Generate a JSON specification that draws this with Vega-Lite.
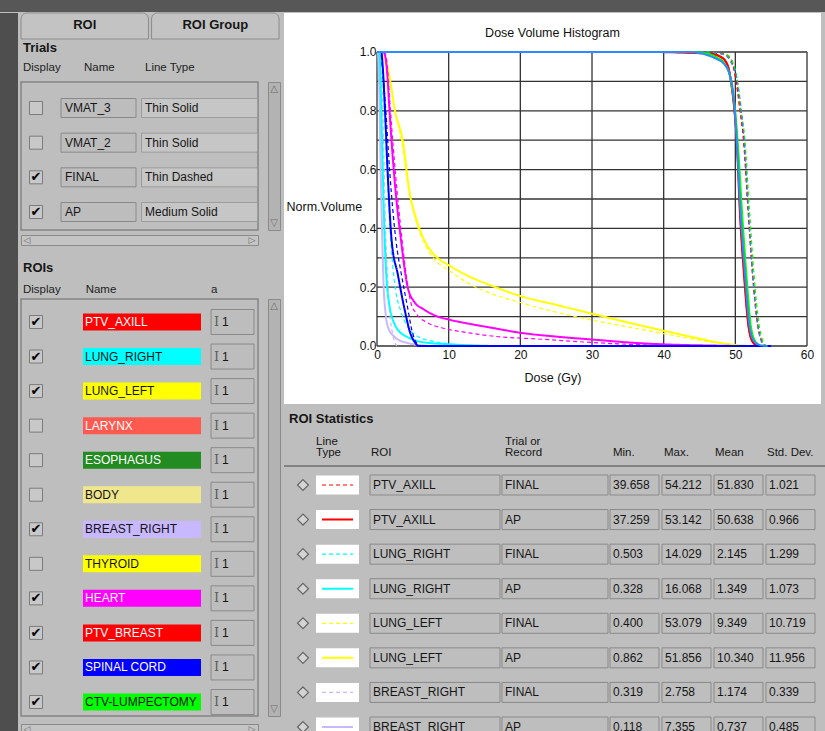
{
"$schema": "https://vega.github.io/schema/vega-lite/v6.json",
"background": "#bebebe",
"padding": 0,
"autosize": {"type": "pad"},
"spacing": 0,
"config": {
  "view": {"stroke": null},
  "font": "Liberation Sans",
  "text": {"font": "Liberation Sans", "fontSize": 12, "color": "#161616"},
  "concat": {"spacing": 0}
},
"datasets": {
  "tabs": [{"tab": "ROI"}, {"tab": "ROI Group"}],
  "hdrT": [{"k": "Display"}, {"k": "Name"}, {"k": "Line Type"}],
  "hdrR": [{"k": "Display"}, {"k": "Name"}, {"k": "a"}],
  "vs": [{"p": "top", "g": "△"}, {"p": "bot", "g": "▽"}],
  "hs": [{"p": "l", "g": "◁"}, {"p": "r", "g": "▷"}],
  "trials": [
    {"name": "VMAT_3", "line": "Thin Solid", "on": false},
    {"name": "VMAT_2", "line": "Thin Solid", "on": false},
    {"name": "FINAL", "line": "Thin Dashed", "on": true},
    {"name": "AP", "line": "Medium Solid", "on": true}
  ],
  "rois": [
    {"roi": "PTV_AXILL", "on": true, "a": 1},
    {"roi": "LUNG_RIGHT", "on": true, "a": 1},
    {"roi": "LUNG_LEFT", "on": true, "a": 1},
    {"roi": "LARYNX", "on": false, "a": 1},
    {"roi": "ESOPHAGUS", "on": false, "a": 1},
    {"roi": "BODY", "on": false, "a": 1},
    {"roi": "BREAST_RIGHT", "on": true, "a": 1},
    {"roi": "THYROID", "on": false, "a": 1},
    {"roi": "HEART", "on": true, "a": 1},
    {"roi": "PTV_BREAST", "on": true, "a": 1},
    {"roi": "SPINAL CORD", "on": true, "a": 1},
    {"roi": "CTV-LUMPECTOMY", "on": true, "a": 1}
  ],
  "hdrS": [
    {"col": "lt", "h1": "Line", "h2": "Type"},
    {"col": "roi", "h1": "", "h2": "ROI"},
    {"col": "trial", "h1": "Trial or", "h2": "Record"},
    {"col": "min", "h1": "", "h2": "Min."},
    {"col": "max", "h1": "", "h2": "Max."},
    {"col": "mean", "h1": "", "h2": "Mean"},
    {"col": "sd", "h1": "", "h2": "Std. Dev."}
  ],
  "stats": [
    {"row": 1, "roi": "PTV_AXILL", "trial": "FINAL", "min": 39.658, "max": 54.212, "mean": 51.830, "sd": 1.021},
    {"row": 2, "roi": "PTV_AXILL", "trial": "AP", "min": 37.259, "max": 53.142, "mean": 50.638, "sd": 0.966},
    {"row": 3, "roi": "LUNG_RIGHT", "trial": "FINAL", "min": 0.503, "max": 14.029, "mean": 2.145, "sd": 1.299},
    {"row": 4, "roi": "LUNG_RIGHT", "trial": "AP", "min": 0.328, "max": 16.068, "mean": 1.349, "sd": 1.073},
    {"row": 5, "roi": "LUNG_LEFT", "trial": "FINAL", "min": 0.400, "max": 53.079, "mean": 9.349, "sd": 10.719},
    {"row": 6, "roi": "LUNG_LEFT", "trial": "AP", "min": 0.862, "max": 51.856, "mean": 10.340, "sd": 11.956},
    {"row": 7, "roi": "BREAST_RIGHT", "trial": "FINAL", "min": 0.319, "max": 2.758, "mean": 1.174, "sd": 0.339},
    {"row": 8, "roi": "BREAST_RIGHT", "trial": "AP", "min": 0.118, "max": 7.355, "mean": 0.737, "sd": 0.485}
  ],
  "gx": [{"d": 0}, {"d": 10}, {"d": 20}, {"d": 30}, {"d": 40}, {"d": 50}, {"d": 60}],
  "gy": [{"v": 0}, {"v": 0.1}, {"v": 0.2}, {"v": 0.3}, {"v": 0.4}, {"v": 0.5}, {"v": 0.6}, {"v": 0.7}, {"v": 0.8}, {"v": 0.9}, {"v": 1}],
  "dvh": [
    {"roi":"BREAST_RIGHT","trial":"FINAL","dose":0,"vol":1},
    {"roi":"BREAST_RIGHT","trial":"FINAL","dose":0.319,"vol":1},
    {"roi":"BREAST_RIGHT","trial":"FINAL","dose":0.55,"vol":0.95},
    {"roi":"BREAST_RIGHT","trial":"FINAL","dose":0.8,"vol":0.8},
    {"roi":"BREAST_RIGHT","trial":"FINAL","dose":1.0,"vol":0.6},
    {"roi":"BREAST_RIGHT","trial":"FINAL","dose":1.2,"vol":0.4},
    {"roi":"BREAST_RIGHT","trial":"FINAL","dose":1.45,"vol":0.25},
    {"roi":"BREAST_RIGHT","trial":"FINAL","dose":1.75,"vol":0.12},
    {"roi":"BREAST_RIGHT","trial":"FINAL","dose":2.2,"vol":0.04},
    {"roi":"BREAST_RIGHT","trial":"FINAL","dose":2.758,"vol":0},
    {"roi":"BREAST_RIGHT","trial":"AP","dose":0,"vol":1},
    {"roi":"BREAST_RIGHT","trial":"AP","dose":0.118,"vol":1},
    {"roi":"BREAST_RIGHT","trial":"AP","dose":0.3,"vol":0.9},
    {"roi":"BREAST_RIGHT","trial":"AP","dose":0.5,"vol":0.62},
    {"roi":"BREAST_RIGHT","trial":"AP","dose":0.7,"vol":0.4},
    {"roi":"BREAST_RIGHT","trial":"AP","dose":0.9,"vol":0.22},
    {"roi":"BREAST_RIGHT","trial":"AP","dose":1.2,"vol":0.11},
    {"roi":"BREAST_RIGHT","trial":"AP","dose":1.6,"vol":0.06},
    {"roi":"BREAST_RIGHT","trial":"AP","dose":2.5,"vol":0.03},
    {"roi":"BREAST_RIGHT","trial":"AP","dose":4,"vol":0.012},
    {"roi":"BREAST_RIGHT","trial":"AP","dose":7.355,"vol":0},
    {"roi":"LUNG_RIGHT","trial":"FINAL","dose":0,"vol":1},
    {"roi":"LUNG_RIGHT","trial":"FINAL","dose":0.503,"vol":1},
    {"roi":"LUNG_RIGHT","trial":"FINAL","dose":0.8,"vol":0.93},
    {"roi":"LUNG_RIGHT","trial":"FINAL","dose":1.1,"vol":0.78},
    {"roi":"LUNG_RIGHT","trial":"FINAL","dose":1.4,"vol":0.6},
    {"roi":"LUNG_RIGHT","trial":"FINAL","dose":1.7,"vol":0.45},
    {"roi":"LUNG_RIGHT","trial":"FINAL","dose":2.1,"vol":0.3},
    {"roi":"LUNG_RIGHT","trial":"FINAL","dose":2.6,"vol":0.19},
    {"roi":"LUNG_RIGHT","trial":"FINAL","dose":3.3,"vol":0.12},
    {"roi":"LUNG_RIGHT","trial":"FINAL","dose":4.3,"vol":0.065},
    {"roi":"LUNG_RIGHT","trial":"FINAL","dose":5.5,"vol":0.035},
    {"roi":"LUNG_RIGHT","trial":"FINAL","dose":8,"vol":0.015},
    {"roi":"LUNG_RIGHT","trial":"FINAL","dose":14.029,"vol":0},
    {"roi":"LUNG_RIGHT","trial":"AP","dose":0,"vol":1},
    {"roi":"LUNG_RIGHT","trial":"AP","dose":0.328,"vol":1},
    {"roi":"LUNG_RIGHT","trial":"AP","dose":0.5,"vol":0.9},
    {"roi":"LUNG_RIGHT","trial":"AP","dose":0.7,"vol":0.7},
    {"roi":"LUNG_RIGHT","trial":"AP","dose":0.85,"vol":0.55},
    {"roi":"LUNG_RIGHT","trial":"AP","dose":1.02,"vol":0.4},
    {"roi":"LUNG_RIGHT","trial":"AP","dose":1.3,"vol":0.24},
    {"roi":"LUNG_RIGHT","trial":"AP","dose":1.72,"vol":0.14},
    {"roi":"LUNG_RIGHT","trial":"AP","dose":2.2,"vol":0.09},
    {"roi":"LUNG_RIGHT","trial":"AP","dose":2.65,"vol":0.065},
    {"roi":"LUNG_RIGHT","trial":"AP","dose":3.3,"vol":0.045},
    {"roi":"LUNG_RIGHT","trial":"AP","dose":4.3,"vol":0.03},
    {"roi":"LUNG_RIGHT","trial":"AP","dose":6.1,"vol":0.014},
    {"roi":"LUNG_RIGHT","trial":"AP","dose":10,"vol":0.006},
    {"roi":"LUNG_RIGHT","trial":"AP","dose":16.068,"vol":0},
    {"roi":"LUNG_LEFT","trial":"FINAL","dose":0,"vol":1},
    {"roi":"LUNG_LEFT","trial":"FINAL","dose":0.4,"vol":1},
    {"roi":"LUNG_LEFT","trial":"FINAL","dose":1.0,"vol":0.97},
    {"roi":"LUNG_LEFT","trial":"FINAL","dose":1.6,"vol":0.92},
    {"roi":"LUNG_LEFT","trial":"FINAL","dose":2.5,"vol":0.8},
    {"roi":"LUNG_LEFT","trial":"FINAL","dose":3.5,"vol":0.69},
    {"roi":"LUNG_LEFT","trial":"FINAL","dose":4.5,"vol":0.52},
    {"roi":"LUNG_LEFT","trial":"FINAL","dose":5.5,"vol":0.42},
    {"roi":"LUNG_LEFT","trial":"FINAL","dose":6.6,"vol":0.35},
    {"roi":"LUNG_LEFT","trial":"FINAL","dose":8,"vol":0.295},
    {"roi":"LUNG_LEFT","trial":"FINAL","dose":10,"vol":0.258},
    {"roi":"LUNG_LEFT","trial":"FINAL","dose":13,"vol":0.21},
    {"roi":"LUNG_LEFT","trial":"FINAL","dose":16,"vol":0.178},
    {"roi":"LUNG_LEFT","trial":"FINAL","dose":20,"vol":0.148},
    {"roi":"LUNG_LEFT","trial":"FINAL","dose":25,"vol":0.115},
    {"roi":"LUNG_LEFT","trial":"FINAL","dose":30,"vol":0.088},
    {"roi":"LUNG_LEFT","trial":"FINAL","dose":35,"vol":0.065},
    {"roi":"LUNG_LEFT","trial":"FINAL","dose":40,"vol":0.042},
    {"roi":"LUNG_LEFT","trial":"FINAL","dose":45,"vol":0.02},
    {"roi":"LUNG_LEFT","trial":"FINAL","dose":48,"vol":0.008},
    {"roi":"LUNG_LEFT","trial":"FINAL","dose":50,"vol":0.003},
    {"roi":"LUNG_LEFT","trial":"FINAL","dose":53.079,"vol":0},
    {"roi":"LUNG_LEFT","trial":"AP","dose":0,"vol":1},
    {"roi":"LUNG_LEFT","trial":"AP","dose":0.862,"vol":1},
    {"roi":"LUNG_LEFT","trial":"AP","dose":1.3,"vol":0.97},
    {"roi":"LUNG_LEFT","trial":"AP","dose":1.72,"vol":0.92},
    {"roi":"LUNG_LEFT","trial":"AP","dose":2.5,"vol":0.8},
    {"roi":"LUNG_LEFT","trial":"AP","dose":3.58,"vol":0.7},
    {"roi":"LUNG_LEFT","trial":"AP","dose":4.5,"vol":0.53},
    {"roi":"LUNG_LEFT","trial":"AP","dose":5.5,"vol":0.43},
    {"roi":"LUNG_LEFT","trial":"AP","dose":6.6,"vol":0.36},
    {"roi":"LUNG_LEFT","trial":"AP","dose":8,"vol":0.31},
    {"roi":"LUNG_LEFT","trial":"AP","dose":10,"vol":0.275},
    {"roi":"LUNG_LEFT","trial":"AP","dose":13,"vol":0.235},
    {"roi":"LUNG_LEFT","trial":"AP","dose":16,"vol":0.205},
    {"roi":"LUNG_LEFT","trial":"AP","dose":20,"vol":0.17},
    {"roi":"LUNG_LEFT","trial":"AP","dose":25,"vol":0.14},
    {"roi":"LUNG_LEFT","trial":"AP","dose":30,"vol":0.11},
    {"roi":"LUNG_LEFT","trial":"AP","dose":35,"vol":0.08},
    {"roi":"LUNG_LEFT","trial":"AP","dose":40,"vol":0.052},
    {"roi":"LUNG_LEFT","trial":"AP","dose":45,"vol":0.025},
    {"roi":"LUNG_LEFT","trial":"AP","dose":48,"vol":0.01},
    {"roi":"LUNG_LEFT","trial":"AP","dose":50,"vol":0.004},
    {"roi":"LUNG_LEFT","trial":"AP","dose":51.856,"vol":0},
    {"roi":"HEART","trial":"FINAL","dose":0,"vol":1},
    {"roi":"HEART","trial":"FINAL","dose":1.0,"vol":1},
    {"roi":"HEART","trial":"FINAL","dose":1.35,"vol":0.97},
    {"roi":"HEART","trial":"FINAL","dose":1.6,"vol":0.9},
    {"roi":"HEART","trial":"FINAL","dose":1.85,"vol":0.81},
    {"roi":"HEART","trial":"FINAL","dose":2.6,"vol":0.58},
    {"roi":"HEART","trial":"FINAL","dose":3.5,"vol":0.36},
    {"roi":"HEART","trial":"FINAL","dose":4.2,"vol":0.22},
    {"roi":"HEART","trial":"FINAL","dose":4.7,"vol":0.15},
    {"roi":"HEART","trial":"FINAL","dose":5.5,"vol":0.11},
    {"roi":"HEART","trial":"FINAL","dose":7,"vol":0.08},
    {"roi":"HEART","trial":"FINAL","dose":9,"vol":0.062},
    {"roi":"HEART","trial":"FINAL","dose":12,"vol":0.048},
    {"roi":"HEART","trial":"FINAL","dose":16,"vol":0.034},
    {"roi":"HEART","trial":"FINAL","dose":23,"vol":0.023},
    {"roi":"HEART","trial":"FINAL","dose":30,"vol":0.012},
    {"roi":"HEART","trial":"FINAL","dose":36,"vol":0.005},
    {"roi":"HEART","trial":"FINAL","dose":42,"vol":0.001},
    {"roi":"HEART","trial":"FINAL","dose":45,"vol":0},
    {"roi":"HEART","trial":"AP","dose":0,"vol":1},
    {"roi":"HEART","trial":"AP","dose":0.9,"vol":1},
    {"roi":"HEART","trial":"AP","dose":1.25,"vol":0.97},
    {"roi":"HEART","trial":"AP","dose":1.5,"vol":0.9},
    {"roi":"HEART","trial":"AP","dose":1.72,"vol":0.81},
    {"roi":"HEART","trial":"AP","dose":2.4,"vol":0.58},
    {"roi":"HEART","trial":"AP","dose":3.35,"vol":0.36},
    {"roi":"HEART","trial":"AP","dose":4.28,"vol":0.2},
    {"roi":"HEART","trial":"AP","dose":5.2,"vol":0.15},
    {"roi":"HEART","trial":"AP","dose":6.5,"vol":0.125},
    {"roi":"HEART","trial":"AP","dose":8.5,"vol":0.1},
    {"roi":"HEART","trial":"AP","dose":10,"vol":0.09},
    {"roi":"HEART","trial":"AP","dose":13,"vol":0.075},
    {"roi":"HEART","trial":"AP","dose":16,"vol":0.062},
    {"roi":"HEART","trial":"AP","dose":20,"vol":0.045},
    {"roi":"HEART","trial":"AP","dose":25,"vol":0.032},
    {"roi":"HEART","trial":"AP","dose":30,"vol":0.022},
    {"roi":"HEART","trial":"AP","dose":37,"vol":0.009},
    {"roi":"HEART","trial":"AP","dose":42,"vol":0.004},
    {"roi":"HEART","trial":"AP","dose":48,"vol":0.001},
    {"roi":"HEART","trial":"AP","dose":50,"vol":0},
    {"roi":"PTV_AXILL","trial":"FINAL","dose":0,"vol":1},
    {"roi":"PTV_AXILL","trial":"FINAL","dose":39.658,"vol":1},
    {"roi":"PTV_AXILL","trial":"FINAL","dose":48,"vol":0.995},
    {"roi":"PTV_AXILL","trial":"FINAL","dose":49.2,"vol":0.98},
    {"roi":"PTV_AXILL","trial":"FINAL","dose":49.9,"vol":0.93},
    {"roi":"PTV_AXILL","trial":"FINAL","dose":50.6,"vol":0.81},
    {"roi":"PTV_AXILL","trial":"FINAL","dose":51.15,"vol":0.697},
    {"roi":"PTV_AXILL","trial":"FINAL","dose":51.75,"vol":0.47},
    {"roi":"PTV_AXILL","trial":"FINAL","dose":52.4,"vol":0.244},
    {"roi":"PTV_AXILL","trial":"FINAL","dose":53.1,"vol":0.074},
    {"roi":"PTV_AXILL","trial":"FINAL","dose":53.7,"vol":0.015},
    {"roi":"PTV_AXILL","trial":"FINAL","dose":54.212,"vol":0},
    {"roi":"PTV_AXILL","trial":"AP","dose":0,"vol":1},
    {"roi":"PTV_AXILL","trial":"AP","dose":37.259,"vol":1},
    {"roi":"PTV_AXILL","trial":"AP","dose":46,"vol":0.995},
    {"roi":"PTV_AXILL","trial":"AP","dose":47.8,"vol":0.985},
    {"roi":"PTV_AXILL","trial":"AP","dose":48.8,"vol":0.96},
    {"roi":"PTV_AXILL","trial":"AP","dose":49.4,"vol":0.9},
    {"roi":"PTV_AXILL","trial":"AP","dose":49.9,"vol":0.8},
    {"roi":"PTV_AXILL","trial":"AP","dose":50.2,"vol":0.7},
    {"roi":"PTV_AXILL","trial":"AP","dose":50.6,"vol":0.47},
    {"roi":"PTV_AXILL","trial":"AP","dose":51.2,"vol":0.244},
    {"roi":"PTV_AXILL","trial":"AP","dose":51.8,"vol":0.074},
    {"roi":"PTV_AXILL","trial":"AP","dose":52.4,"vol":0.015},
    {"roi":"PTV_AXILL","trial":"AP","dose":53.142,"vol":0},
    {"roi":"PTV_BREAST","trial":"FINAL","dose":0,"vol":1},
    {"roi":"PTV_BREAST","trial":"FINAL","dose":42,"vol":1},
    {"roi":"PTV_BREAST","trial":"FINAL","dose":48.3,"vol":0.995},
    {"roi":"PTV_BREAST","trial":"FINAL","dose":49.4,"vol":0.975},
    {"roi":"PTV_BREAST","trial":"FINAL","dose":50.0,"vol":0.92},
    {"roi":"PTV_BREAST","trial":"FINAL","dose":50.7,"vol":0.8},
    {"roi":"PTV_BREAST","trial":"FINAL","dose":51.2,"vol":0.69},
    {"roi":"PTV_BREAST","trial":"FINAL","dose":51.8,"vol":0.46},
    {"roi":"PTV_BREAST","trial":"FINAL","dose":52.45,"vol":0.235},
    {"roi":"PTV_BREAST","trial":"FINAL","dose":53.15,"vol":0.07},
    {"roi":"PTV_BREAST","trial":"FINAL","dose":53.75,"vol":0.014},
    {"roi":"PTV_BREAST","trial":"FINAL","dose":54.3,"vol":0},
    {"roi":"PTV_BREAST","trial":"AP","dose":0,"vol":1},
    {"roi":"PTV_BREAST","trial":"AP","dose":40,"vol":1},
    {"roi":"PTV_BREAST","trial":"AP","dose":46.5,"vol":0.995},
    {"roi":"PTV_BREAST","trial":"AP","dose":48.2,"vol":0.98},
    {"roi":"PTV_BREAST","trial":"AP","dose":49.0,"vol":0.95},
    {"roi":"PTV_BREAST","trial":"AP","dose":49.5,"vol":0.88},
    {"roi":"PTV_BREAST","trial":"AP","dose":49.95,"vol":0.78},
    {"roi":"PTV_BREAST","trial":"AP","dose":50.3,"vol":0.66},
    {"roi":"PTV_BREAST","trial":"AP","dose":50.7,"vol":0.45},
    {"roi":"PTV_BREAST","trial":"AP","dose":51.3,"vol":0.23},
    {"roi":"PTV_BREAST","trial":"AP","dose":51.9,"vol":0.06},
    {"roi":"PTV_BREAST","trial":"AP","dose":52.5,"vol":0.012},
    {"roi":"PTV_BREAST","trial":"AP","dose":53.2,"vol":0},
    {"roi":"CTV-LUMPECTOMY","trial":"FINAL","dose":0,"vol":1},
    {"roi":"CTV-LUMPECTOMY","trial":"FINAL","dose":46,"vol":1},
    {"roi":"CTV-LUMPECTOMY","trial":"FINAL","dose":48.8,"vol":0.99},
    {"roi":"CTV-LUMPECTOMY","trial":"FINAL","dose":50.0,"vol":0.94},
    {"roi":"CTV-LUMPECTOMY","trial":"FINAL","dose":50.75,"vol":0.81},
    {"roi":"CTV-LUMPECTOMY","trial":"FINAL","dose":51.35,"vol":0.697},
    {"roi":"CTV-LUMPECTOMY","trial":"FINAL","dose":51.95,"vol":0.47},
    {"roi":"CTV-LUMPECTOMY","trial":"FINAL","dose":52.6,"vol":0.244},
    {"roi":"CTV-LUMPECTOMY","trial":"FINAL","dose":53.3,"vol":0.074},
    {"roi":"CTV-LUMPECTOMY","trial":"FINAL","dose":53.85,"vol":0.017},
    {"roi":"CTV-LUMPECTOMY","trial":"FINAL","dose":54.4,"vol":0},
    {"roi":"CTV-LUMPECTOMY","trial":"AP","dose":0,"vol":1},
    {"roi":"CTV-LUMPECTOMY","trial":"AP","dose":44,"vol":1},
    {"roi":"CTV-LUMPECTOMY","trial":"AP","dose":46,"vol":0.995},
    {"roi":"CTV-LUMPECTOMY","trial":"AP","dose":47.5,"vol":0.98},
    {"roi":"CTV-LUMPECTOMY","trial":"AP","dose":48.5,"vol":0.96},
    {"roi":"CTV-LUMPECTOMY","trial":"AP","dose":49.4,"vol":0.9},
    {"roi":"CTV-LUMPECTOMY","trial":"AP","dose":50.05,"vol":0.78},
    {"roi":"CTV-LUMPECTOMY","trial":"AP","dose":50.45,"vol":0.65},
    {"roi":"CTV-LUMPECTOMY","trial":"AP","dose":50.95,"vol":0.45},
    {"roi":"CTV-LUMPECTOMY","trial":"AP","dose":51.55,"vol":0.24},
    {"roi":"CTV-LUMPECTOMY","trial":"AP","dose":52.15,"vol":0.07},
    {"roi":"CTV-LUMPECTOMY","trial":"AP","dose":52.8,"vol":0.015},
    {"roi":"CTV-LUMPECTOMY","trial":"AP","dose":53.5,"vol":0},
    {"roi":"SPINAL CORD","trial":"FINAL","dose":0,"vol":1},
    {"roi":"SPINAL CORD","trial":"FINAL","dose":0.5,"vol":1},
    {"roi":"SPINAL CORD","trial":"FINAL","dose":0.75,"vol":0.95},
    {"roi":"SPINAL CORD","trial":"FINAL","dose":1.2,"vol":0.81},
    {"roi":"SPINAL CORD","trial":"FINAL","dose":1.8,"vol":0.585},
    {"roi":"SPINAL CORD","trial":"FINAL","dose":2.65,"vol":0.357},
    {"roi":"SPINAL CORD","trial":"FINAL","dose":3.4,"vol":0.244},
    {"roi":"SPINAL CORD","trial":"FINAL","dose":4.28,"vol":0.13},
    {"roi":"SPINAL CORD","trial":"FINAL","dose":4.9,"vol":0.05},
    {"roi":"SPINAL CORD","trial":"FINAL","dose":5.4,"vol":0.015},
    {"roi":"SPINAL CORD","trial":"FINAL","dose":6.0,"vol":0},
    {"roi":"SPINAL CORD","trial":"AP","dose":0,"vol":1},
    {"roi":"SPINAL CORD","trial":"AP","dose":0.6,"vol":1},
    {"roi":"SPINAL CORD","trial":"AP","dose":0.8,"vol":0.95},
    {"roi":"SPINAL CORD","trial":"AP","dose":1.1,"vol":0.81},
    {"roi":"SPINAL CORD","trial":"AP","dose":1.5,"vol":0.585},
    {"roi":"SPINAL CORD","trial":"AP","dose":2.05,"vol":0.357},
    {"roi":"SPINAL CORD","trial":"AP","dose":2.9,"vol":0.244},
    {"roi":"SPINAL CORD","trial":"AP","dose":3.8,"vol":0.13},
    {"roi":"SPINAL CORD","trial":"AP","dose":4.7,"vol":0.04},
    {"roi":"SPINAL CORD","trial":"AP","dose":5.3,"vol":0.012},
    {"roi":"SPINAL CORD","trial":"AP","dose":5.8,"vol":0},
    {"roi":"SPINAL CORD","trial":"AP","dose":55,"vol":0},
    {"roi":"PTV_EVAL","trial":"FINAL","dose":0,"vol":1},
    {"roi":"PTV_EVAL","trial":"FINAL","dose":46,"vol":1},
    {"roi":"PTV_EVAL","trial":"FINAL","dose":48.5,"vol":0.99},
    {"roi":"PTV_EVAL","trial":"FINAL","dose":49.5,"vol":0.96},
    {"roi":"PTV_EVAL","trial":"FINAL","dose":50.1,"vol":0.924},
    {"roi":"PTV_EVAL","trial":"FINAL","dose":50.8,"vol":0.81},
    {"roi":"PTV_EVAL","trial":"FINAL","dose":51.25,"vol":0.697},
    {"roi":"PTV_EVAL","trial":"FINAL","dose":51.8,"vol":0.47},
    {"roi":"PTV_EVAL","trial":"FINAL","dose":52.4,"vol":0.244},
    {"roi":"PTV_EVAL","trial":"FINAL","dose":53.1,"vol":0.074},
    {"roi":"PTV_EVAL","trial":"FINAL","dose":53.6,"vol":0.017},
    {"roi":"PTV_EVAL","trial":"FINAL","dose":54.0,"vol":0},
    {"roi":"PTV_EVAL","trial":"AP","dose":0,"vol":1},
    {"roi":"PTV_EVAL","trial":"AP","dose":43.5,"vol":1},
    {"roi":"PTV_EVAL","trial":"AP","dose":46,"vol":0.99},
    {"roi":"PTV_EVAL","trial":"AP","dose":47.5,"vol":0.975},
    {"roi":"PTV_EVAL","trial":"AP","dose":48.2,"vol":0.965},
    {"roi":"PTV_EVAL","trial":"AP","dose":49.2,"vol":0.924},
    {"roi":"PTV_EVAL","trial":"AP","dose":49.9,"vol":0.81},
    {"roi":"PTV_EVAL","trial":"AP","dose":50.2,"vol":0.697},
    {"roi":"PTV_EVAL","trial":"AP","dose":50.7,"vol":0.47},
    {"roi":"PTV_EVAL","trial":"AP","dose":51.35,"vol":0.244},
    {"roi":"PTV_EVAL","trial":"AP","dose":51.95,"vol":0.074},
    {"roi":"PTV_EVAL","trial":"AP","dose":52.6,"vol":0.017},
    {"roi":"PTV_EVAL","trial":"AP","dose":53.5,"vol":0.003},
    {"roi":"PTV_EVAL","trial":"AP","dose":54.5,"vol":0}
  ]
},
"vconcat": [
  {"width": 825, "height": 12, "view": {"fill": "#575757"}, "data": {"values": []}, "mark": "rect", "encoding": {}},
  {"spacing": 0, "hconcat": [
    {"width": 18, "height": 719, "view": {"fill": "#4e4e4e"}, "data": {"values": []}, "mark": "rect", "encoding": {}},
    {"width": 2, "height": 719, "data": {"values": []}, "mark": "rect", "encoding": {}},
    {"spacing": 0, "vconcat": [
      {"width": 263, "height": 26, "data": {"name": "tabs"}, "layer": [
        {"mark": {"type": "bar", "fill": "#c3c3c3", "stroke": "#8c8c8c", "strokeWidth": 1, "cornerRadiusTopLeft": 6, "cornerRadiusTopRight": 6},
         "encoding": {"x": {"field": "tab", "type": "nominal", "scale": {"type": "band", "domain": ["ROI", "ROI Group"], "range": [0, 258], "paddingInner": 0.024, "paddingOuter": 0}, "axis": null}}},
        {"mark": {"type": "text", "fontWeight": "bold", "fontSize": 13, "dy": -1},
         "encoding": {"x": {"field": "tab", "type": "nominal", "axis": null}, "text": {"field": "tab"}}}
      ]},
      {"width": 263, "height": 41, "data": {"name": "hdrT"}, "layer": [
        {"data": {"values": [{"t": "Trials"}]}, "mark": {"type": "text", "align": "left", "fontWeight": "bold", "fontSize": 13},
         "encoding": {
           "x": {"datum": "Display", "type": "nominal", "scale": {"type": "point", "domain": ["Display", "Name", "Line Type"], "range": [2, 124], "padding": 0}, "axis": null},
           "y": {"datum": "title", "type": "nominal", "scale": {"type": "point", "domain": ["title", "cols"], "range": [8, 28], "padding": 0}, "axis": null},
           "text": {"field": "t"}}},
        {"mark": {"type": "text", "align": "left", "fontSize": 11.5, "color": "#222"},
         "encoding": {"x": {"field": "k", "type": "nominal", "axis": null}, "y": {"datum": "cols", "type": "nominal", "axis": null}, "text": {"field": "k"}}}
      ]},
      {"spacing": 0, "hconcat": [
        {"width": 237, "height": 148, "view": {"stroke": "#858585", "strokeWidth": 1.5}, "data": {"name": "trials"},
         "encoding": {"y": {"field": "name", "type": "nominal", "scale": {"type": "point", "domain": ["VMAT_3", "VMAT_2", "FINAL", "AP"], "range": [26, 130], "padding": 0}, "axis": null}},
         "layer": [
          {"mark": {"type": "rect", "width": 13, "height": 13, "fill": "#c8c8c8", "stroke": "#7c7c7c", "strokeWidth": 1},
           "encoding": {"x": {"datum": "cb", "type": "nominal", "scale": {"type": "point", "domain": ["cb", "name", "lt"], "range": [15, 179], "padding": 0}, "axis": null}}},
          {"transform": [{"filter": "datum.on"}], "mark": {"type": "text", "text": "✔", "font": "DejaVu Sans", "fontSize": 13, "color": "#000"},
           "encoding": {"x": {"datum": "cb", "type": "nominal", "axis": null}}},
          {"mark": {"type": "rect", "width": 75, "height": 19, "xOffset": -19.5, "fill": "#bdbdbd", "stroke": "#8a8a8a"},
           "encoding": {"x": {"datum": "name", "type": "nominal", "axis": null}}},
          {"mark": {"type": "text", "align": "left", "dx": -53, "fontSize": 12},
           "encoding": {"x": {"datum": "name", "type": "nominal", "axis": null}, "text": {"field": "name"}}},
          {"mark": {"type": "rect", "width": 116, "height": 19, "xOffset": -0.5, "fill": "#c6c6c6", "stroke": "#9c9c9c"},
           "encoding": {"x": {"datum": "lt", "type": "nominal", "axis": null}}},
          {"mark": {"type": "text", "align": "left", "dx": -55, "fontSize": 12},
           "encoding": {"x": {"datum": "lt", "type": "nominal", "axis": null}, "text": {"field": "line"}}}
        ]},
        {"width": 8, "height": 148, "data": {"values": []}, "mark": "rect", "encoding": {}},
        {"width": 12, "height": 148, "view": {"fill": "#b3b3b3", "stroke": "#8a8a8a"}, "data": {"name": "vs"},
         "mark": {"type": "text", "font": "DejaVu Sans", "fontSize": 10, "color": "#6e6e6e"},
         "encoding": {"y": {"field": "p", "type": "nominal", "scale": {"type": "point", "domain": ["top", "bot"], "range": [7, 141], "padding": 0}, "axis": null}, "text": {"field": "g"}}}
      ]},
      {"spacing": 0, "vconcat": [
        {"width": 263, "height": 3, "data": {"values": []}, "mark": "rect", "encoding": {}},
        {"width": 237, "height": 10, "view": {"fill": "#c4c4c4", "stroke": "#8a8a8a"}, "data": {"name": "hs"},
         "mark": {"type": "text", "font": "DejaVu Sans", "fontSize": 9, "color": "#6e6e6e"},
         "encoding": {"x": {"field": "p", "type": "nominal", "scale": {"type": "point", "domain": ["l", "r"], "range": [6, 231], "padding": 0}, "axis": null}, "text": {"field": "g"}}},
        {"width": 263, "height": 6, "data": {"values": []}, "mark": "rect", "encoding": {}}
      ]},
      {"width": 263, "height": 46, "data": {"name": "hdrR"}, "layer": [
        {"data": {"values": [{"t": "ROIs"}]}, "mark": {"type": "text", "align": "left", "fontWeight": "bold", "fontSize": 13},
         "encoding": {
           "x": {"datum": "Display", "type": "nominal", "scale": {"type": "point", "domain": ["Display", "Name", "_", "a"], "range": [2, 190], "padding": 0}, "axis": null},
           "y": {"datum": "title", "type": "nominal", "scale": {"type": "point", "domain": ["title", "cols"], "range": [16, 38], "padding": 0}, "axis": null},
           "text": {"field": "t"}}},
        {"mark": {"type": "text", "align": "left", "fontSize": 11.5, "color": "#222"},
         "encoding": {"x": {"field": "k", "type": "nominal", "axis": null}, "y": {"datum": "cols", "type": "nominal", "axis": null}, "text": {"field": "k"}}}
      ]},
      {"spacing": 0, "hconcat": [
        {"width": 237, "height": 417, "view": {"stroke": "#858585", "strokeWidth": 1.5}, "data": {"name": "rois"},
         "encoding": {"y": {"field": "roi", "type": "nominal", "scale": {"type": "point", "domain": ["PTV_AXILL", "LUNG_RIGHT", "LUNG_LEFT", "LARYNX", "ESOPHAGUS", "BODY", "BREAST_RIGHT", "THYROID", "HEART", "PTV_BREAST", "SPINAL CORD", "CTV-LUMPECTOMY"], "range": [23, 403], "padding": 0}, "axis": null}},
         "layer": [
          {"mark": {"type": "rect", "width": 13, "height": 13, "fill": "#c8c8c8", "stroke": "#7c7c7c", "strokeWidth": 1},
           "encoding": {"x": {"datum": "cb", "type": "nominal", "scale": {"type": "point", "domain": ["cb", "name", "num"], "range": [15, 211.5], "padding": 0}, "axis": null}}},
          {"transform": [{"filter": "datum.on"}], "mark": {"type": "text", "text": "✔", "font": "DejaVu Sans", "fontSize": 13, "color": "#000"},
           "encoding": {"x": {"datum": "cb", "type": "nominal", "axis": null}}},
          {"mark": {"type": "rect", "width": 118, "height": 17, "xOffset": 7.75},
           "encoding": {"x": {"datum": "name", "type": "nominal", "axis": null},
             "color": {"field": "roi", "type": "nominal", "legend": null, "scale": {"domain": ["PTV_AXILL", "LUNG_RIGHT", "LUNG_LEFT", "LARYNX", "ESOPHAGUS", "BODY", "BREAST_RIGHT", "THYROID", "HEART", "PTV_BREAST", "SPINAL CORD", "CTV-LUMPECTOMY", "PTV_EVAL"], "range": ["#ff0000", "#00ffff", "#ffff00", "#ff5a50", "#228b22", "#f0e68c", "#c8b8ff", "#ffff00", "#ff00ff", "#ff0000", "#0000ff", "#00ff00", "#2a8cff"]}}}},
          {"mark": {"type": "text", "align": "left", "dx": -49.25, "fontSize": 12},
           "encoding": {"x": {"datum": "name", "type": "nominal", "axis": null}, "text": {"field": "roi"},
             "color": {"condition": {"test": "indexof(['PTV_AXILL','LARYNX','ESOPHAGUS','HEART','PTV_BREAST','SPINAL CORD'], datum.roi) >= 0", "value": "#ffffff"}, "value": "#141414"}}},
          {"mark": {"type": "rect", "width": 43, "height": 25, "fill": "#bdbdbd", "stroke": "#8a8a8a"},
           "encoding": {"x": {"datum": "num", "type": "nominal", "axis": null}}},
          {"mark": {"type": "text", "text": "I", "font": "DejaVu Serif", "fontSize": 13, "color": "#5e5e5e", "dx": -16},
           "encoding": {"x": {"datum": "num", "type": "nominal", "axis": null}}},
          {"mark": {"type": "text", "align": "left", "dx": -10.5, "fontSize": 12},
           "encoding": {"x": {"datum": "num", "type": "nominal", "axis": null}, "text": {"field": "a"}}}
        ]},
        {"width": 8, "height": 417, "data": {"values": []}, "mark": "rect", "encoding": {}},
        {"width": 12, "height": 417, "view": {"fill": "#b3b3b3", "stroke": "#8a8a8a"}, "data": {"name": "vs"},
         "mark": {"type": "text", "font": "DejaVu Sans", "fontSize": 10, "color": "#6e6e6e"},
         "encoding": {"y": {"field": "p", "type": "nominal", "scale": {"type": "point", "domain": ["top", "bot"], "range": [7, 410], "padding": 0}, "axis": null}, "text": {"field": "g"}}}
      ]},
      {"spacing": 0, "vconcat": [
        {"width": 263, "height": 6, "data": {"values": []}, "mark": "rect", "encoding": {}},
        {"width": 237, "height": 10, "view": {"fill": "#c4c4c4", "stroke": "#8a8a8a"}, "data": {"name": "hs"},
         "mark": {"type": "text", "font": "DejaVu Sans", "fontSize": 9, "color": "#6e6e6e"},
         "encoding": {"x": {"field": "p", "type": "nominal", "scale": {"type": "point", "domain": ["l", "r"], "range": [6, 231], "padding": 0}, "axis": null}, "text": {"field": "g"}}}
      ]}
    ]},
    {"spacing": 0, "vconcat": [
      {"width": 537, "height": 391, "view": {"fill": "#ffffff"},
       "title": {"text": "Dose Volume Histogram", "fontSize": 12.5, "fontWeight": "normal", "anchor": "middle", "offset": -26, "color": "#111", "font": "Liberation Sans"},
       "layer": [
        {"data": {"name": "gx"}, "mark": {"type": "rule", "color": "#333333", "strokeWidth": 1.3},
         "encoding": {
           "x": {"field": "d", "type": "quantitative", "scale": {"domain": [-12.977, 61.953], "nice": false, "zero": false},
                 "axis": {"values": [0, 10, 20, 30, 40, 50, 60], "offset": -58, "domain": false, "ticks": false, "grid": false, "labelPadding": 3, "labelFontSize": 12, "labelColor": "#111", "labelFlush": false, "labelOverlap": false, "title": "Dose (Gy)", "titleFontSize": 12.5, "titleFontWeight": "normal", "titleColor": "#111", "titlePadding": 11}},
           "y": {"datum": 0, "type": "quantitative", "scale": {"domain": [-0.19728, 1.13265], "nice": false, "zero": false},
                 "axis": {"values": [0, 0.1, 0.2, 0.3, 0.4, 0.5, 0.6, 0.7, 0.8, 0.9, 1], "format": ".1f", "offset": -93, "domain": false, "ticks": false, "grid": false, "labelPadding": 1, "labelFontSize": 12, "labelColor": "#111", "labelFlush": false, "labelOverlap": false, "title": "Norm.Volume", "titleAngle": 0, "titleAlign": "left", "titleBaseline": "middle", "titleX": -91, "titleY": 193, "titleFontSize": 12.5, "titleFontWeight": "normal", "titleColor": "#111"}},
           "y2": {"datum": 1}}},
        {"data": {"name": "gy"}, "mark": {"type": "rule", "color": "#333333", "strokeWidth": 1.3},
         "encoding": {"y": {"field": "v", "type": "quantitative"}, "x": {"datum": 0, "type": "quantitative"}, "x2": {"datum": 60}}},
        {"data": {"name": "dvh"}, "mark": {"type": "line", "interpolate": "monotone"},
         "encoding": {
           "x": {"field": "dose", "type": "quantitative"},
           "y": {"field": "vol", "type": "quantitative"},
           "color": {"field": "roi", "type": "nominal", "legend": null, "scale": {"domain": ["PTV_AXILL", "LUNG_RIGHT", "LUNG_LEFT", "LARYNX", "ESOPHAGUS", "BODY", "BREAST_RIGHT", "THYROID", "HEART", "PTV_BREAST", "SPINAL CORD", "CTV-LUMPECTOMY", "PTV_EVAL"], "range": ["#ff0000", "#00ffff", "#ffff00", "#ff5a50", "#228b22", "#f0e68c", "#c8b8ff", "#ffff00", "#ff00ff", "#ff0000", "#0000ff", "#00ff00", "#2a8cff"]}},
           "strokeDash": {"field": "trial", "type": "nominal", "legend": null, "scale": {"domain": ["FINAL", "AP"], "range": [[4, 3], [1, 0]]}},
           "strokeWidth": {"field": "trial", "type": "nominal", "legend": null, "scale": {"domain": ["FINAL", "AP"], "range": [1.2, 2]}}}}
       ]},
      {"width": 542, "height": 61, "data": {"name": "hdrS"}, "layer": [
        {"data": {"values": [{"t": "ROI Statistics"}]}, "mark": {"type": "text", "align": "left", "fontWeight": "bold", "fontSize": 13, "dx": -14},
         "encoding": {
           "x": {"datum": "ico", "type": "nominal", "scale": {"type": "point", "domain": ["ico", "lt", "roi", "trial", "min", "max", "mean", "sd"], "range": [19, 506.5], "padding": 0}, "axis": null},
           "y": {"datum": "t", "type": "nominal", "scale": {"type": "point", "domain": ["t", "_", "h1", "h2"], "range": [15, 49], "padding": 0}, "axis": null},
           "text": {"field": "t"}}},
        {"transform": [{"filter": "datum.col == 'lt'"}], "mark": {"type": "text", "align": "left", "fontSize": 11.5, "dx": -56.6},
         "encoding": {"x": {"datum": "lt", "type": "nominal", "axis": null}, "y": {"datum": "h1", "type": "nominal", "axis": null}, "text": {"field": "h1"}}},
        {"transform": [{"filter": "datum.col == 'lt'"}], "mark": {"type": "text", "align": "left", "fontSize": 11.5, "dx": -56.6},
         "encoding": {"x": {"datum": "lt", "type": "nominal", "axis": null}, "y": {"datum": "h2", "type": "nominal", "axis": null}, "text": {"field": "h2"}}},
        {"transform": [{"filter": "datum.col == 'roi'"}], "mark": {"type": "text", "align": "left", "fontSize": 11.5, "dx": -71.3},
         "encoding": {"x": {"datum": "roi", "type": "nominal", "axis": null}, "y": {"datum": "h2", "type": "nominal", "axis": null}, "text": {"field": "h2"}}},
        {"transform": [{"filter": "datum.col == 'trial'"}], "mark": {"type": "text", "align": "left", "fontSize": 11.5, "dx": -6.9},
         "encoding": {"x": {"datum": "trial", "type": "nominal", "axis": null}, "y": {"datum": "h1", "type": "nominal", "axis": null}, "text": {"field": "h1"}}},
        {"transform": [{"filter": "datum.col == 'trial'"}], "mark": {"type": "text", "align": "left", "fontSize": 11.5, "dx": -6.9},
         "encoding": {"x": {"datum": "trial", "type": "nominal", "axis": null}, "y": {"datum": "h2", "type": "nominal", "axis": null}, "text": {"field": "h2"}}},
        {"transform": [{"filter": "datum.col == 'min'"}], "mark": {"type": "text", "align": "left", "fontSize": 11.5, "dx": 31.4},
         "encoding": {"x": {"datum": "min", "type": "nominal", "axis": null}, "y": {"datum": "h2", "type": "nominal", "axis": null}, "text": {"field": "h2"}}},
        {"transform": [{"filter": "datum.col == 'max'"}], "mark": {"type": "text", "align": "left", "fontSize": 11.5, "dx": 12.8},
         "encoding": {"x": {"datum": "max", "type": "nominal", "axis": null}, "y": {"datum": "h2", "type": "nominal", "axis": null}, "text": {"field": "h2"}}},
        {"transform": [{"filter": "datum.col == 'mean'"}], "mark": {"type": "text", "align": "left", "fontSize": 11.5, "dx": -5.9},
         "encoding": {"x": {"datum": "mean", "type": "nominal", "axis": null}, "y": {"datum": "h2", "type": "nominal", "axis": null}, "text": {"field": "h2"}}},
        {"transform": [{"filter": "datum.col == 'sd'"}], "mark": {"type": "text", "align": "left", "fontSize": 11.5, "dx": -23.5},
         "encoding": {"x": {"datum": "sd", "type": "nominal", "axis": null}, "y": {"datum": "h2", "type": "nominal", "axis": null}, "text": {"field": "h2"}}}
      ]},
      {"width": 542, "height": 2, "view": {"fill": "#838383"}, "data": {"values": []}, "mark": "rect", "encoding": {}},
      {"width": 542, "height": 265, "data": {"name": "stats"},
       "encoding": {"y": {"field": "row", "type": "ordinal", "scale": {"type": "point", "domain": [1, 2, 3, 4, 5, 6, 7, 8], "range": [18, 260], "padding": 0}, "axis": null}},
       "layer": [
        {"mark": {"type": "point", "shape": "diamond", "size": 120, "filled": true, "fill": "#d4d4d4", "stroke": "#666666", "strokeWidth": 1.2, "opacity": 1},
         "encoding": {"x": {"datum": "ico", "type": "nominal", "scale": {"type": "point", "domain": ["ico", "lt", "roi", "trial", "min", "max", "mean", "sd"], "range": [19, 506.5], "padding": 0}, "axis": null}}},
        {"mark": {"type": "rect", "width": 43, "height": 19, "xOffset": -35.14, "fill": "#ffffff"},
         "encoding": {"x": {"datum": "lt", "type": "nominal", "axis": null}}},
        {"mark": {"type": "point", "shape": "M-1,0L1,0", "size": 961, "filled": false, "opacity": 1, "xOffset": -35.14},
         "encoding": {"x": {"datum": "lt", "type": "nominal", "axis": null},
           "color": {"field": "roi", "type": "nominal", "legend": null, "scale": {"domain": ["PTV_AXILL", "LUNG_RIGHT", "LUNG_LEFT", "LARYNX", "ESOPHAGUS", "BODY", "BREAST_RIGHT", "THYROID", "HEART", "PTV_BREAST", "SPINAL CORD", "CTV-LUMPECTOMY", "PTV_EVAL"], "range": ["#ff0000", "#00ffff", "#ffff00", "#ff5a50", "#228b22", "#f0e68c", "#c8b8ff", "#ffff00", "#ff00ff", "#ff0000", "#0000ff", "#00ff00", "#2a8cff"]}},
           "strokeDash": {"field": "trial", "type": "nominal", "legend": null, "scale": {"domain": ["FINAL", "AP"], "range": [[4, 3], [1, 0]]}},
           "strokeWidth": {"field": "trial", "type": "nominal", "legend": null, "scale": {"domain": ["FINAL", "AP"], "range": [1.2, 2]}}}},
        {"mark": {"type": "rect", "width": 130, "height": 20, "xOffset": -7.29, "fill": "#bebebe", "stroke": "#8a8a8a"},
         "encoding": {"x": {"datum": "roi", "type": "nominal", "axis": null}}},
        {"mark": {"type": "text", "align": "left", "dx": -69.3, "fontSize": 12},
         "encoding": {"x": {"datum": "roi", "type": "nominal", "axis": null}, "text": {"field": "roi"}}},
        {"mark": {"type": "rect", "width": 106, "height": 20, "xOffset": 43.07, "fill": "#bebebe", "stroke": "#8a8a8a"},
         "encoding": {"x": {"datum": "trial", "type": "nominal", "axis": null}}},
        {"mark": {"type": "text", "align": "left", "dx": -6.9, "fontSize": 12},
         "encoding": {"x": {"datum": "trial", "type": "nominal", "axis": null}, "text": {"field": "trial"}}},
        {"mark": {"type": "rect", "width": 49, "height": 20, "xOffset": 52.93, "fill": "#bebebe", "stroke": "#8a8a8a"},
         "encoding": {"x": {"datum": "min", "type": "nominal", "axis": null}}},
        {"mark": {"type": "text", "align": "left", "dx": 31.43, "fontSize": 12},
         "encoding": {"x": {"datum": "min", "type": "nominal", "axis": null}, "text": {"field": "min", "type": "quantitative", "format": ".3f"}}},
        {"mark": {"type": "rect", "width": 49, "height": 20, "xOffset": 35.29, "fill": "#bebebe", "stroke": "#8a8a8a"},
         "encoding": {"x": {"datum": "max", "type": "nominal", "axis": null}}},
        {"mark": {"type": "text", "align": "left", "dx": 13.79, "fontSize": 12},
         "encoding": {"x": {"datum": "max", "type": "nominal", "axis": null}, "text": {"field": "max", "type": "quantitative", "format": ".3f"}}},
        {"mark": {"type": "rect", "width": 49, "height": 20, "xOffset": 17.64, "fill": "#bebebe", "stroke": "#8a8a8a"},
         "encoding": {"x": {"datum": "mean", "type": "nominal", "axis": null}}},
        {"mark": {"type": "text", "align": "left", "dx": -3.86, "fontSize": 12},
         "encoding": {"x": {"datum": "mean", "type": "nominal", "axis": null}, "text": {"field": "mean", "type": "quantitative", "format": ".3f"}}},
        {"mark": {"type": "rect", "width": 49, "height": 20, "fill": "#bebebe", "stroke": "#8a8a8a"},
         "encoding": {"x": {"datum": "sd", "type": "nominal", "axis": null}}},
        {"mark": {"type": "text", "align": "left", "dx": -21.5, "fontSize": 12},
         "encoding": {"x": {"datum": "sd", "type": "nominal", "axis": null}, "text": {"field": "sd", "type": "quantitative", "format": ".3f"}}}
       ]}
    ]}
  ]}
]
}
